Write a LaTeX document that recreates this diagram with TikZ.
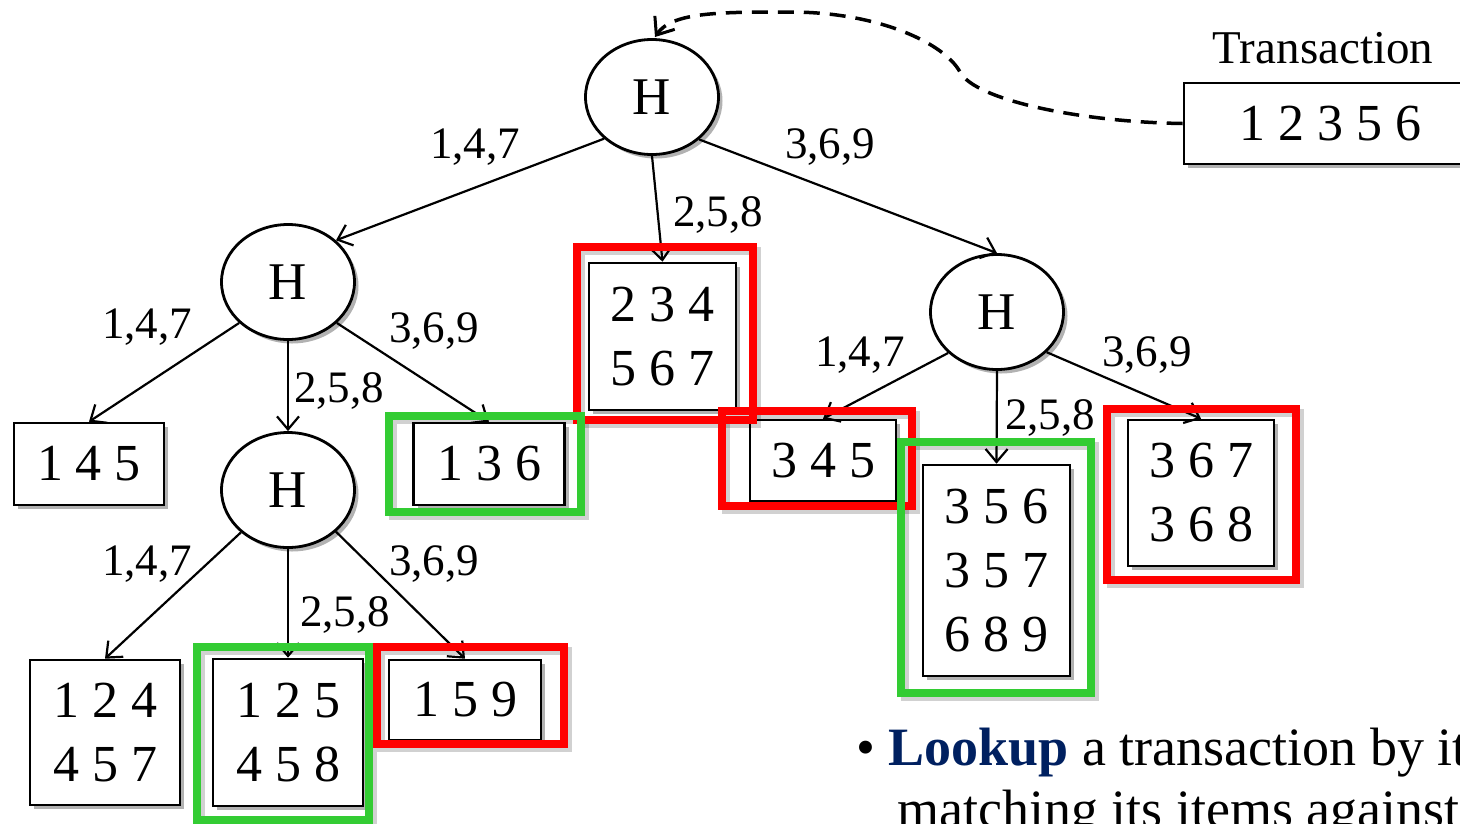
\documentclass[tikz,border=0pt]{standalone}
\usepackage{fontspec}
\setmainfont{Liberation Serif}
\usetikzlibrary{shapes.geometric,shadows,arrows.meta}
\definecolor{hred}{RGB}{255,0,0}
\definecolor{hgreen}{RGB}{51,204,51}
\definecolor{navy}{RGB}{0,32,96}
\begin{document}
\begin{tikzpicture}[x=1pt,y=-1pt,
  shade/.style={drop shadow={shadow xshift=4pt,shadow yshift=-4pt,opacity=0.3,fill=black}},
  hnode/.style={ellipse,draw,line width=2.8pt,fill=white,minimum width=133pt,minimum height=115pt,
    inner sep=0pt,font=\fontsize{53}{60}\selectfont,shade},
  bucket/.style={rectangle,draw,line width=2.6pt,fill=white,inner sep=0pt,align=center,
    font=\fontsize{52}{64}\selectfont,shade},
  lab/.style={inner sep=0pt,anchor=base west,font=\fontsize{45}{50}\selectfont},
  arr/.style={line width=2.2pt,-{Straight Barb[length=13pt,width=22pt,line width=2.2pt]}},
  frame/.style={line width=8pt},
  fshade/.style={line width=8pt,black,opacity=0.18},
]
\useasboundingbox (0,0) rectangle (1460,823);

% hash nodes
\node[hnode] (root) at (652,97) {H};
\node[hnode] (lh) at (288,282) {H};
\node[hnode] (rh) at (997,312) {H};
\node[hnode] (llh) at (288,490) {H};

% leaf buckets
\node[bucket,minimum width=150pt,minimum height=82pt] (b145) at (89,464) {1 4 5};
\node[bucket,minimum width=151pt,minimum height=82pt] (b136) at (489,464) {1 3 6};
\node[bucket,minimum width=147pt,minimum height=147pt] (b234) at (662.5,336.5) {2 3 4\\5 6 7};
\node[bucket,minimum width=146pt,minimum height=81pt] (b345) at (823,460.5) {3 4 5};
\node[bucket,minimum width=147pt,minimum height=211pt] (b356) at (996.5,570.5) {3 5 6\\3 5 7\\6 8 9};
\node[bucket,minimum width=146pt,minimum height=146pt] (b367) at (1201,493) {3 6 7\\3 6 8};
\node[bucket,minimum width=150pt,minimum height=145pt] (b124) at (105,732.5) {1 2 4\\4 5 7};
\node[bucket,minimum width=150pt,minimum height=147pt] (b125) at (288,732.5) {1 2 5\\4 5 8};
\node[bucket,minimum width=152pt,minimum height=80pt] (b159) at (465,700) {1 5 9};

% transaction
\node[bucket,minimum width=292pt,minimum height=81pt] (trans) at (1330,123.5) {1 2 3 5 6};
\node[inner sep=0pt,anchor=base,font=\fontsize{47}{50}\selectfont] (ttl) at (1323,63) {Transaction};

% branches
\draw[arr] (root.221) -- (lh.41);
\draw[arr] (root.south) -- (b234.north);
\draw[arr] (root.-42) -- (rh.north);
\draw[arr] (lh.220) -- (b145.north);
\draw[arr] (lh.south) -- (llh.north);
\draw[arr] (lh.-40) -- (b136.north);
\draw[arr] (rh.220) -- (b345.north);
\draw[arr] (rh.south) -- (b356.north);
\draw[arr] (rh.-39) -- (b367.north);
\draw[arr] (llh.222) -- (b124.north);
\draw[arr] (llh.south) -- (b125.north);
\draw[arr] (llh.-41) -- (b159.north);

% branch labels
\node[lab] (l1) at (430,158) {1,4,7};
\node[lab] (l2) at (673,226) {2,5,8};
\node[lab] (l3) at (785,158) {3,6,9};
\node[lab] (l4) at (102,338) {1,4,7};
\node[lab] (l5) at (294,402) {2,5,8};
\node[lab] (l6) at (389,342) {3,6,9};
\node[lab] (l7) at (815,366) {1,4,7};
\node[lab] (l8) at (1005,429) {2,5,8};
\node[lab] (l9) at (1102,366) {3,6,9};
\node[lab] (l10) at (102,575) {1,4,7};
\node[lab] (l11) at (300,626) {2,5,8};
\node[lab] (l12) at (389,575) {3,6,9};

% dashed lookup path
\coordinate (bend) at (960,72);
\draw[line width=3.5pt,dash pattern=on 16pt off 10pt,-{Straight Barb[length=15pt,width=24pt,line width=3pt]}]
  (trans.west) .. controls (1080,122) and (975,100) .. (bend)
  .. controls (945,44) and (880,12) .. (790,12)
  .. controls (720,12) and (672,12) .. (655,37);

% frame shadows
\foreach \a/\b in {{577,247}/{753,420},{389,416}/{581,512},{722,411}/{912,506},{901,442}/{1091,693},
                   {1107,409}/{1296,580},{197,647}/{369,820},{377,647}/{564,744}}
  \draw[fshade,shift={(4pt,-4pt)}] (\a) rectangle (\b);

% candidate frames
\draw[frame,hred] (577,247) rectangle (753,420);
\draw[frame,hgreen] (389,416) rectangle (581,512);
\draw[frame,hred] (722,411) rectangle (912,506);
\draw[frame,hgreen] (901,442) rectangle (1091,693);
\draw[frame,hred] (1107,409) rectangle (1296,580);
\draw[frame,hgreen] (197,647) rectangle (369,820);
\draw[frame,hred] (377,647) rectangle (564,744);

% bullet text
\node[inner sep=0pt,anchor=base west,font=\fontsize{54}{60}\selectfont] (bul) at (856,765)
  {• \textcolor{navy}{\textbf{Lookup}} a transaction by its};
\node[inner sep=0pt,anchor=base west,font=\fontsize{54}{60}\selectfont] (bul2) at (897,827)
  {matching its items against};
\end{tikzpicture}
\end{document}
